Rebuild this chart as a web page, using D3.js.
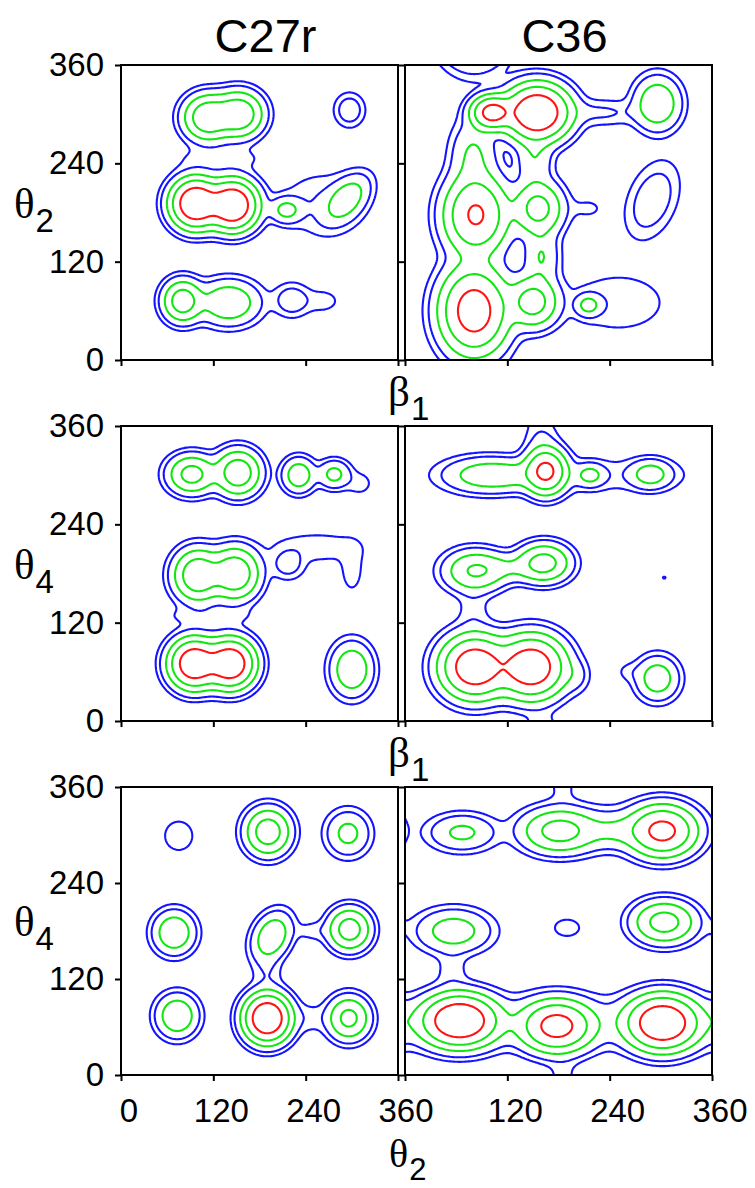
<!DOCTYPE html>
<html>
<head>
<meta charset="utf-8">
<script src="https://cdn.jsdelivr.net/npm/d3@7"></script>
<style>
  body { margin: 0; background: #fff; }
  text { font-family: "Liberation Sans", Arial, sans-serif; fill: #000; }
  .greek { font-family: "Liberation Serif", "DejaVu Serif", serif; }
</style>
</head>
<body>
<svg id="chart" width="755" height="1188"></svg>
<script>
// Axis ticks and titles
const tickValues = [0, 120, 240, 360];
const columnTitles = ["C27r", "C36"];
const rowYLabels = [["θ", "2"], ["θ", "4"], ["θ", "4"]];
const rowXLabels = [["β", "1"], ["β", "1"], ["θ", "2"]];

// Contour levels of the population density and their colours
const levels = [0.012, 0.03, 0.09, 0.22, 0.5];
const levelColors = ["#1414ff", "#1414ff", "#14e614", "#14e614", "#ff1414"];

// Population basins: [centre x, centre y, height, width x, width y, tilt in degrees]
const c27rBeta1Theta2 = [
  [97, 191, 1.0, 17, 16, 0],
  [145, 189, 1.0, 17, 16, 0],
  [113, 296, 0.42, 17, 15, 0],
  [153, 300, 0.42, 17, 15, 0],
  [130, 246, 0.02, 40, 10, 0],
  [215, 183, 0.12, 12, 9, 0],
  [293, 196, 0.16, 20, 12, 45],
  [262, 190, 0.03, 35, 25, 0],
  [80, 72, 0.35, 14, 14, 0],
  [140, 70, 0.2, 22, 15, 0],
  [222, 73, 0.06, 14, 12, 0],
  [262, 72, 0.02, 16, 10, 0],
  [297, 305, 0.06, 11.5, 12, 0]
];
const c36Beta1Theta2 = [
  [102, 302, 0.68, 13, 11, 0],
  [155, 302, 1.0, 20, 18, 0],
  [80, 250, 0.1, 15, 25, 0],
  [152, 245, 0.08, 12, 20, 0],
  [83, 177, 0.55, 20, 26, 0],
  [156, 185, 0.3, 16, 18, 0],
  [160, 126, 0.09, 12, 20, 0],
  [81, 60, 0.75, 21, 28, 0],
  [150, 71, 0.32, 16, 17, 0],
  [215, 67, 0.12, 9, 8, 0],
  [250, 70, 0.025, 40, 25, 0],
  [296, 313, 0.2, 15, 18, 0],
  [230, 302, 0.035, 30, 10, 0],
  [290, 195, 0.062, 28, 16, 70],
  [215, 185, 0.015, 15, 10, 0]
];
const c27rBeta1Theta4 = [
  [92, 301, 0.3, 17, 13, 0],
  [152, 303, 0.38, 16, 15, 0],
  [231, 300, 0.17, 12, 12, 0],
  [277, 301, 0.12, 12, 10, 0],
  [310, 290, 0.02, 12, 10, 0],
  [100, 178, 0.42, 17, 17, 0],
  [148, 180, 0.42, 17, 17, 0],
  [217, 191, 0.05, 13, 11, 0],
  [255, 212, 0.025, 40, 12, 0],
  [300, 185, 0.022, 10, 20, 0],
  [95, 70, 0.9, 17, 16, 0],
  [142, 70, 0.9, 17, 16, 0],
  [115, 128, 0.02, 40, 8, 0],
  [300, 63, 0.2, 15, 18, 0]
];
const c36Beta1Theta4 = [
  [165, 305, 0.6, 13, 15, 0],
  [160, 345, 0.03, 12, 15, 0],
  [96, 300, 0.15, 28, 12, 0],
  [130, 300, 0.05, 20, 10, 0],
  [217, 300, 0.11, 10, 8, 0],
  [288, 301, 0.14, 14, 10, 0],
  [200, 300, 0.025, 90, 14, 0],
  [82, 183, 0.23, 20, 14, 0],
  [163, 193, 0.3, 17, 13, 0],
  [122, 187, 0.07, 25, 10, 0],
  [82, 66, 0.87, 21, 20, 0],
  [148, 66, 0.87, 21, 20, 0],
  [80, 135, 0.02, 12, 20, 0],
  [200, 55, 0.035, 10, 12, 0],
  [296, 52, 0.16, 14, 15, 0],
  [262, 60, 0.015, 10, 8, 0],
  [304, 175, 0.014, 3, 3, 0]
];
const c27rTheta2Theta4 = [
  [75, 299, 0.024, 15, 15, 0],
  [191, 304, 0.35, 16, 16, 0],
  [295, 302, 0.12, 16, 16, 0],
  [69, 178, 0.2, 15, 15, 0],
  [196, 173, 0.19, 18, 13, 60],
  [297, 182, 0.33, 15, 14.5, 0],
  [250, 180, 0.02, 15, 8, 0],
  [190, 128, 0.025, 12, 15, 0],
  [73, 74, 0.2, 15, 15, 0],
  [190, 71, 1.0, 16, 16, 0],
  [296, 71, 0.28, 15, 15, 0],
  [245, 71, 0.02, 15, 12, 0]
];
const c36Theta2Theta4 = [
  [67, 303, 0.111, 22, 13, 0],
  [181, 305, 0.3, 24, 15, 0],
  [302, 305, 0.62, 21, 17, 0],
  [245, 305, 0.07, 20, 12, 0],
  [245, 308, 0.03, 55, 18, 0],
  [57, 180, 0.15, 24, 15, 0],
  [304, 191, 0.31, 20, 14.6, 0],
  [190, 184, 0.02, 14, 10, 0],
  [55, 130, 0.02, 12, 18, 0],
  [64, 68, 1.0, 23, 17, 0],
  [178, 61, 0.65, 22, 17, 0],
  [302, 65, 0.95, 22, 18, 0],
  [180, 66, 0.04, 1000, 20, 0],
  [185, 360, 0.015, 12, 15, 0]
];

const panels = [
  { row: 0, col: 0, basins: c27rBeta1Theta2 },
  { row: 0, col: 1, basins: c36Beta1Theta2 },
  { row: 1, col: 0, basins: c27rBeta1Theta4 },
  { row: 1, col: 1, basins: c36Beta1Theta4 },
  { row: 2, col: 0, basins: c27rTheta2Theta4 },
  { row: 2, col: 1, basins: c36Theta2Theta4 }
];

// Page layout
const colX = [[121, 398], [405, 712]];
const rowY = [[65, 360], [426, 721], [787, 1075]];

const svg = d3.select("#chart");

// Periodic density on a grid that reaches a little past 0 and 360 degrees
const step = 2, pad = 16;
const lo = -pad;
const n = Math.round((360 + 2 * pad) / step);

function wrap(d) { return ((d % 360) + 540) % 360 - 180; }

function densityGrid(basins) {
  const v = new Float64Array(n * n);
  const pre = basins.map(([px, py, a, sx, sy, t]) => {
    const r = t * Math.PI / 180;
    return { px, py, a, sx, sy, c: Math.cos(r), s: Math.sin(r) };
  });
  for (let j = 0; j < n; j++) {
    const y = lo + (j + 0.5) * step;
    for (let i = 0; i < n; i++) {
      const x = lo + (i + 0.5) * step;
      let sum = 0;
      for (const b of pre) {
        const dx = wrap(x - b.px), dy = wrap(y - b.py);
        const u = dx * b.c + dy * b.s, w = -dx * b.s + dy * b.c;
        sum += b.a * Math.exp(-0.5 * (u * u / (b.sx * b.sx) + w * w / (b.sy * b.sy)));
      }
      v[j * n + i] = sum;
    }
  }
  return v;
}

const contourGen = d3.contours().size([n, n]).thresholds(levels);

panels.forEach((p, k) => {
  const [x0, x1] = colX[p.col];
  const [y0, y1] = rowY[p.row];
  const xs = d3.scaleLinear().domain([0, 360]).range([x0, x1]);
  const ys = d3.scaleLinear().domain([0, 360]).range([y1, y0]);

  const clipId = "clip" + k;
  svg.append("clipPath").attr("id", clipId)
    .append("rect").attr("x", x0).attr("y", y0)
    .attr("width", x1 - x0).attr("height", y1 - y0);

  const proj = d3.geoTransform({
    point(gx, gy) { this.stream.point(xs(lo + gx * step), ys(lo + gy * step)); }
  });
  const path = d3.geoPath(proj);

  const contours = contourGen(densityGrid(p.basins));
  svg.append("g").attr("clip-path", `url(#${clipId})`)
    .selectAll("path").data(contours).join("path")
    .attr("d", path)
    .attr("fill", "none")
    .attr("stroke", (d, i) => levelColors[i])
    .attr("stroke-width", 2.1)
    .attr("stroke-linejoin", "round");

  // frame
  svg.append("rect").attr("x", x0).attr("y", y0)
    .attr("width", x1 - x0).attr("height", y1 - y0)
    .attr("fill", "none").attr("stroke", "#000").attr("stroke-width", 2);

  // bottom ticks
  const xAxis = d3.axisBottom(xs).tickValues(tickValues).tickSize(6).tickFormat("");
  const gx = svg.append("g").attr("transform", `translate(0,${y1})`).call(xAxis);
  gx.select(".domain").remove();
  gx.selectAll("line").attr("stroke", "#000").attr("stroke-width", 2);

  // left ticks
  const yAxis = d3.axisLeft(ys).tickValues(tickValues).tickSize(6).tickFormat("");
  const gy = svg.append("g").attr("transform", `translate(${x0},0)`).call(yAxis);
  gy.select(".domain").remove();
  gy.selectAll("line").attr("stroke", "#000").attr("stroke-width", 2);

  // y tick labels on the left column
  if (p.col === 0) {
    svg.append("g").selectAll("text").data(tickValues).join("text")
      .attr("x", x0 - 17).attr("y", d => ys(d) + 11)
      .attr("text-anchor", "end").attr("font-size", 33)
      .text(d => d);
  }
  // x tick labels on the bottom row
  if (p.row === 2) {
    const vals = p.col === 0 ? tickValues : tickValues.slice(1);
    svg.append("g").selectAll("text").data(vals).join("text")
      .attr("x", d => xs(d) + 8).attr("y", 1122)
      .attr("text-anchor", "middle").attr("font-size", 33)
      .text(d => d);
  }
});

// column titles
columnTitles.forEach((t, c) => {
  svg.append("text").attr("x", (colX[c][0] + colX[c][1]) / 2 + 6).attr("y", 52)
    .attr("text-anchor", "middle").attr("font-size", 47).text(t);
});

// axis names with subscripts
function greekLabel(x, y, pair, size, subSize, drop) {
  const t = svg.append("text").attr("x", x).attr("y", y);
  t.append("tspan").attr("class", "greek").attr("font-size", size).text(pair[0]);
  t.append("tspan").attr("font-size", subSize).attr("dy", drop).attr("dx", 1).text(pair[1]);
}
rowY.forEach(([a, b], r) => greekLabel(14, (a + b) / 2 + 5, rowYLabels[r], 43, 33, 14));
greekLabel(388, 406, rowXLabels[0], 43, 33, 14);
greekLabel(388, 767, rowXLabels[1], 43, 33, 14);
greekLabel(389, 1167, rowXLabels[2], 40, 31, 13);
</script>
</body>
</html>
